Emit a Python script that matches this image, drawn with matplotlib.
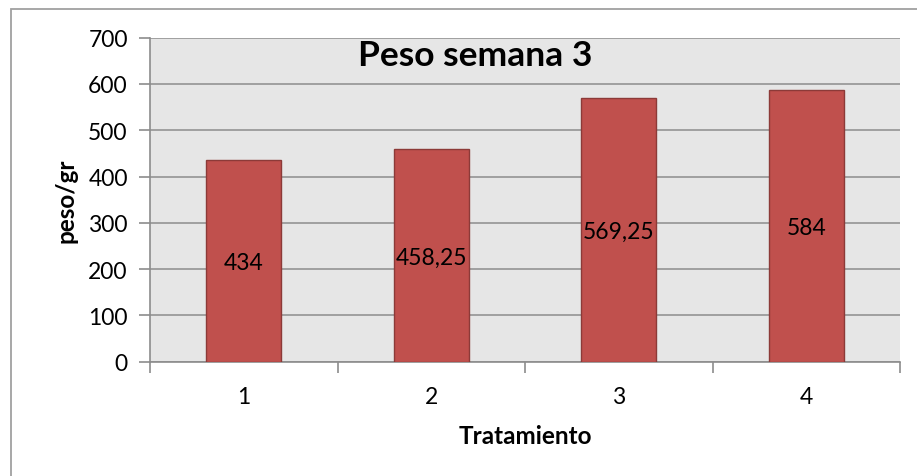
import matplotlib.pyplot as plt
from matplotlib.patches import Rectangle

plt.rcParams['font.family'] = ['Lato', 'DejaVu Sans']

tratamientos = ['1', '2', '3', '4']
peso = [435, 459, 570, 587]
etiquetas = ['434', '458,25', '569,25', '584']

fig = plt.figure(figsize=(9.17, 4.77), dpi=100)
ax = fig.add_axes([150 / 917, 1 - 362.7 / 477, 750 / 917, 324 / 477])

# marco gris exterior (estilo Excel)
fig.patches.append(Rectangle((11 / 917, -0.1), 2, 1.1 - 10 / 477, transform=fig.transFigure,
                             fill=False, edgecolor='#a0a0a0', linewidth=1.3))

ax.set_facecolor('#e6e6e6')
x = range(len(tratamientos))
bars = ax.bar(x, peso, width=0.4, color='#c0504d', edgecolor='#8c3a38', linewidth=1, zorder=3)

for b, lab in zip(bars, etiquetas):
    ax.text(b.get_x() + b.get_width() / 2, b.get_height() / 2 - 4, lab,
            ha='center', va='center', fontsize=16.5, zorder=4)

ax.set_ylim(0, 700)
ax.set_xlim(-0.5, 3.5)
ax.set_yticks(range(0, 701, 100))
ax.yaxis.grid(True, color='#9a9a9a', linewidth=1.3, zorder=0)
ax.set_axisbelow(True)

ax.set_xticks(x)
ax.set_xticklabels(tratamientos)
ax.set_xticks([-0.5, 0.5, 1.5, 2.5, 3.5], minor=True)
ax.tick_params(axis='x', which='major', length=0, labelsize=16.5, pad=17.5)
ax.tick_params(axis='x', which='minor', length=8, color='#8c8c8c', width=1.2)
ax.tick_params(axis='y', length=8, color='#8c8c8c', width=1.2, labelsize=16.5, pad=8)

for s in ['top', 'right']:
    ax.spines[s].set_visible(False)
for s in ['left', 'bottom']:
    ax.spines[s].set_color('#8c8c8c')
    ax.spines[s].set_linewidth(1.2)

ax.set_xlabel('Tratamiento', fontsize=17.5, fontweight='bold', labelpad=12)
ax.set_ylabel('peso/gr', fontsize=17.5, fontweight='bold', labelpad=8)
ax.text(0.433, 0.995, 'Peso semana 3', transform=ax.transAxes, ha='center', va='top',
        fontsize=25.5, fontweight='bold')

fig.savefig('out.png', dpi=100)
